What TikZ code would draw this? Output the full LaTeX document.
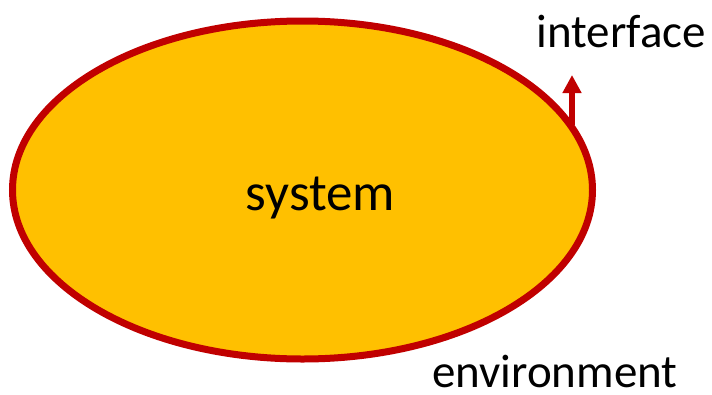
\documentclass[tikz,border=0pt]{standalone}
\usepackage{fontspec}
\setmainfont{Carlito}
\usetikzlibrary{arrows.meta,shapes.geometric}
\definecolor{sysfill}{HTML}{FFC000}
\definecolor{sysline}{HTML}{C00000}
\tikzset{
  lbl/.style={inner sep=0pt, font=\fontsize{47}{54}\selectfont, text=black},
  biglbl/.style={inner sep=0pt, font=\fontsize{53}{60}\selectfont, text=black},
  ifarrow/.style={draw=sysline, line width=6pt, -{Triangle[width=18pt,length=18pt]}}
}
\begin{document}
\begin{tikzpicture}[x=1pt,y=-1pt]
\useasboundingbox (0,0) rectangle (712,394);
\node[draw=sysline, fill=sysfill, line width=7pt, ellipse, minimum width=580pt, minimum height=338pt, inner sep=0pt] (sys) at (302.5,190) {};
\node[biglbl, anchor=base] (systxt) at (320.5,210) {system};
\node[lbl, anchor=base east] (iface) at (706,47) {interface};
\node[lbl, anchor=base west] (env) at (432,387) {environment};
\coordinate (abase) at (572,125);
\coordinate (atip) at (572,75);
\draw[ifarrow] (abase) -- (atip);
\end{tikzpicture}
\end{document}
